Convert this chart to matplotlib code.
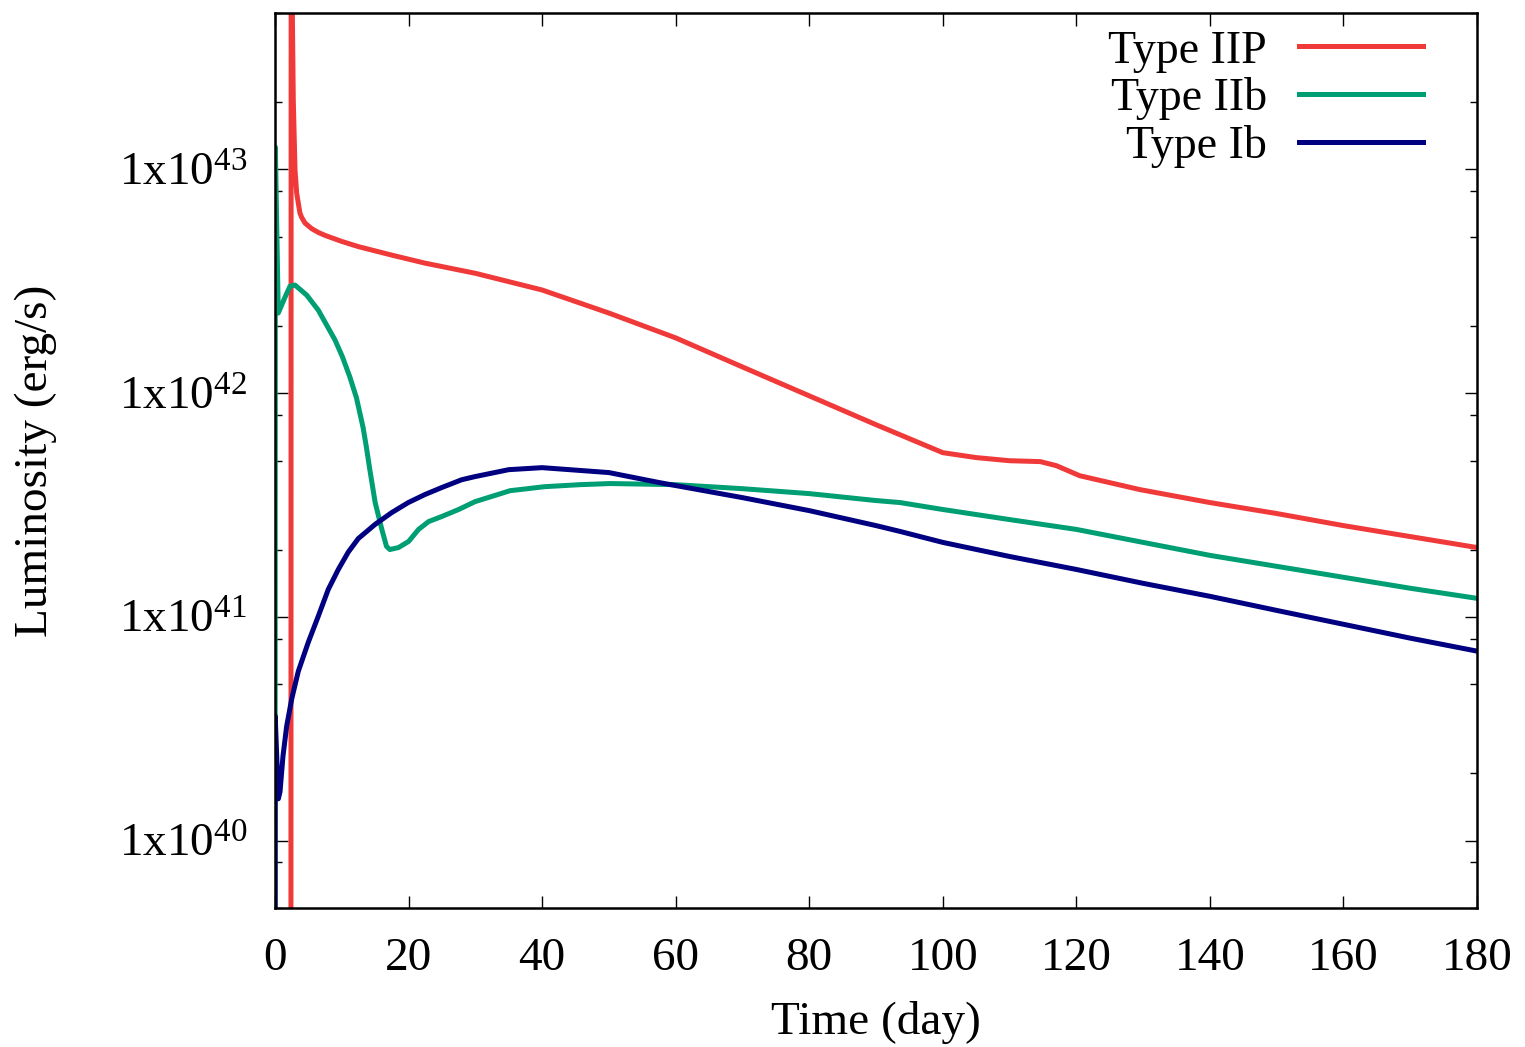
import numpy as np
import matplotlib
matplotlib.use('Agg')
import matplotlib.pyplot as plt
from matplotlib.ticker import FixedLocator, LogLocator, NullFormatter, FuncFormatter

plt.rcParams['font.family'] = ['Liberation Serif', 'DejaVu Serif']
plt.rcParams['mathtext.fontset'] = 'custom'
plt.rcParams['mathtext.rm'] = 'Liberation Serif'
plt.rcParams['mathtext.it'] = 'Liberation Serif:italic'

# values: time (day), log10 luminosity (erg/s)
t_iip = [2.38, 2.42, 2.74, 3.0, 3.25, 3.74, 4.0, 4.5, 5.5, 6.5, 7.5, 10, 12.47,
         17.47, 22.46, 29.95, 40, 50, 60, 70, 80, 90, 100, 105, 110, 114.6, 117,
         120.5, 129.5, 140, 150, 160, 170, 180]
logL_iip = [38.5, 44.2, 43.308, 42.996, 42.893, 42.804, 42.785, 42.760, 42.735,
            42.718, 42.705, 42.678, 42.655, 42.617, 42.581, 42.536, 42.461, 42.358,
            42.247, 42.117, 41.988, 41.859, 41.734, 41.712, 41.698, 41.694, 41.676,
            41.631, 41.569, 41.511, 41.462, 41.408, 41.359, 41.310]

t_iib = [0.0, 0.05, 0.49, 1.5, 2.25, 3.0, 4.75, 6.48, 8.98, 10.1, 11.2, 12.2, 13.2,
         13.7, 14.2, 15.0, 16.0, 16.7, 17.2, 18.5, 20.0, 21.5, 23.0, 25.0, 27.5,
         29.95, 35.2, 40.4, 45.7, 50.2, 60, 70, 80, 90, 93.6, 100, 110, 120, 130,
         140, 150, 160, 170, 180]
logL_iib = [38.5, 43.10, 42.358, 42.429, 42.478, 42.483, 42.438, 42.371, 42.238,
            42.162, 42.073, 41.979, 41.845, 41.756, 41.658, 41.511, 41.391, 41.315,
            41.301, 41.310, 41.337, 41.391, 41.426, 41.449, 41.480, 41.515, 41.564,
            41.582, 41.591, 41.596, 41.591, 41.573, 41.551, 41.520, 41.511, 41.480,
            41.435, 41.391, 41.333, 41.275, 41.226, 41.177, 41.128, 41.083]

t_ib = [0.0, 0.03, 0.5, 0.75, 1.2, 1.75, 2.5, 3.49, 4.99, 6.48, 7.98, 9.48, 10.98,
        12.47, 14.97, 17.47, 19.96, 22.46, 24.96, 27.96, 29.95, 35, 40, 50, 57.6,
        60, 70, 80, 90, 93.6, 100, 110, 120, 130, 140, 150, 160, 170, 180]
logL_ib = [38.5, 40.557, 40.187, 40.218, 40.379, 40.512, 40.633, 40.757, 40.887,
           41.003, 41.123, 41.212, 41.290, 41.350, 41.413, 41.466, 41.511, 41.547,
           41.578, 41.613, 41.627, 41.658, 41.667, 41.645, 41.600, 41.587, 41.533,
           41.475, 41.408, 41.382, 41.333, 41.270, 41.212, 41.150, 41.092, 41.029,
           40.967, 40.905, 40.847]

labels = ['Type IIP', 'Type IIb', 'Type Ib']
colors = ['#f03a3a', '#009e73', '#000080']

fig = plt.figure(figsize=(15.25, 10.47), dpi=100)
ax = fig.add_axes([275/1525, 139/1047, 1202/1525, 895/1047])

for t, lg, lab, c in zip([t_iip, t_iib, t_ib], [logL_iip, logL_iib, logL_ib], labels, colors):
    ax.plot(t, 10**np.array(lg), color=c, lw=3.6, label=lab)

ax.set_yscale('log')
ax.set_xlim(0, 180)
ax.set_ylim(5e39, 5e43)
ax.set_xticks(np.arange(0, 181, 20))
ax.yaxis.set_major_locator(FixedLocator([1e40, 1e41, 1e42, 1e43]))
ax.yaxis.set_major_formatter(FuncFormatter(lambda v, p: '1x10$^{%d}$' % round(np.log10(v))))
ax.yaxis.set_minor_locator(LogLocator(base=10, subs=[2, 5, 8]))
ax.yaxis.set_minor_formatter(NullFormatter())

ax.tick_params(which='both', direction='in', top=True, right=True, labelsize=34, width=1)
ax.tick_params(which='major', length=9)
ax.tick_params(which='minor', length=5)
ax.tick_params(axis='x', which='major', pad=21)
ax.tick_params(axis='y', which='major', pad=20)
for s in ax.spines.values():
    s.set_linewidth(1.8)

ax.set_xlabel('Time (day)', fontsize=34, labelpad=15)
ax.set_ylabel('Luminosity (erg/s)', fontsize=34, labelpad=44)

ax.legend(loc='upper right', bbox_to_anchor=(0.955, 0.981), frameon=False, markerfirst=False,
          fontsize=33, handlelength=2.7, handletextpad=0.7, labelspacing=0.1, borderaxespad=0,
          borderpad=0)

plt.savefig('out.png')
